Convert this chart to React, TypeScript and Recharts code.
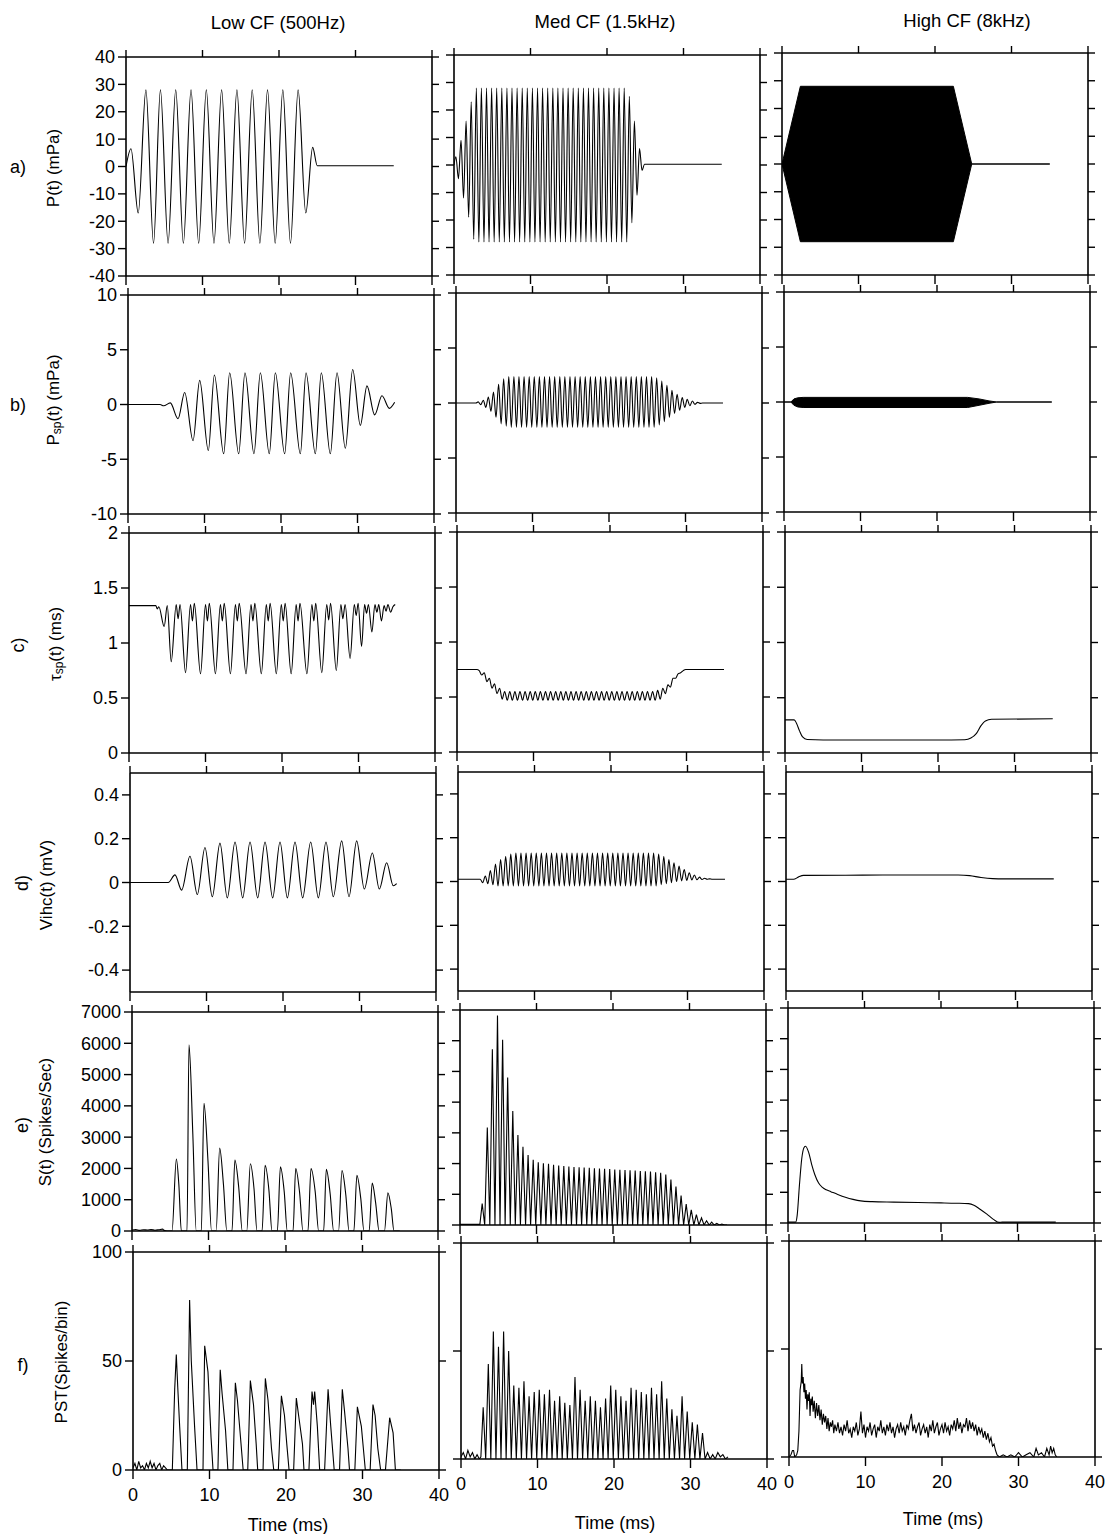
import React from 'react';
import { ComposedChart, Line, Area, XAxis, YAxis } from 'recharts';

// ---------------- data ----------------
type Pair = [number, number];
type RangePair = [number, number, number];

const timeTicks = [0, 10, 20, 30, 40];
const columnTitles = ['Low CF (500Hz)', 'Med CF (1.5kHz)', 'High CF (8kHz)'];

// a) P(t) (mPa)
const lowP: Pair[] = [[0,0],[0.65,6.5],[1.6,-17],[2.6,28],[3.6,-28],[4.5,28],[5.5,-28],[6.5,28],[7.5,-28],[8.5,28],[9.5,-28],[10.5,28],[11.5,-28],[12.5,28],[13.5,-28],[14.5,28],[15.5,-28],[16.5,28],[17.5,-28],[18.5,28],[19.5,-28],[20.5,28],[21.5,-28],[22.5,28],[23.5,-17],[24.4,7],[25.0,0.3],[35,0.3]];
const medPTimes = [
  0.25,0.58,0.92,1.25,1.58,1.92,2.25,2.58,2.92,3.25,
  3.58,3.92,4.25,4.58,4.92,5.25,5.58,5.92,6.25,6.58,
  6.92,7.25,7.58,7.92,8.25,8.58,8.92,9.25,9.58,9.92,
  10.25,10.58,10.92,11.25,11.58,11.92,12.25,12.58,12.92,13.25,
  13.58,13.92,14.25,14.58,14.92,15.25,15.58,15.92,16.25,16.58,
  16.92,17.25,17.58,17.92,18.25,18.58,18.92,19.25,19.58,19.92,
  20.25,20.58,20.92,21.25,21.58,21.92,22.25,22.58,22.92,23.25,
  23.58,23.92,24.25,24.58];
const medPValues = [
  3,-5,9,-12,16,-19,23,-27,28,-28,
  28,-28,28,-28,28,-28,28,-28,28,-28,
  28,-28,28,-28,28,-28,28,-28,28,-28,
  28,-28,28,-28,28,-28,28,-28,28,-28,
  28,-28,28,-28,28,-28,28,-28,28,-28,
  28,-28,28,-28,28,-28,28,-28,28,-28,
  28,-28,28,-28,28,-28,28,-28,25,-21,
  16,-11,6,-2];
const medPLead: Pair[] = [[0,0]];
const medPTail: Pair[] = [[24.9,0.3],[35,0.3]];
const highPEnvelope: RangePair[] = [[0,0,0],[2.4,-28,28],[22.4,-28,28],[24.8,0,0],[35,0,0]];

// shared time grid of the 1.5 kHz column (half-cycle steps)
const medTimes = [
  2.9,3.23,3.57,3.9,4.23,4.57,4.9,5.23,5.57,5.9,
  6.23,6.57,6.9,7.23,7.57,7.9,8.23,8.57,8.9,9.23,
  9.57,9.9,10.23,10.57,10.9,11.23,11.57,11.9,12.23,12.57,
  12.9,13.23,13.57,13.9,14.23,14.57,14.9,15.23,15.57,15.9,
  16.23,16.57,16.9,17.23,17.57,17.9,18.23,18.57,18.9,19.23,
  19.57,19.9,20.23,20.57,20.9,21.23,21.57,21.9,22.23,22.57,
  22.9,23.23,23.57,23.9,24.23,24.57,24.9,25.23,25.57,25.9,
  26.23,26.57,26.9,27.23,27.57,27.9,28.23,28.57,28.9,29.23,
  29.57,29.9,30.23,30.57,30.9,31.23,31.57,31.9,32.23,32.57,
  32.9,33.23,33.57,33.9,34.23,34.57,34.9];

// b) Psp(t) (mPa)
const lowPsp: Pair[] = [[0,0],[4.2,0],[4.66,-0.12],[5.53,0.15],[6.54,-1.3],[7.41,1.1],[8.5,-3.3],[9.37,2.2],[10.5,-4.2],[11.29,2.7],[12.51,-4.5],[13.29,2.9],[14.47,-4.5],[15.29,2.9],[16.47,-4.5],[17.3,2.9],[18.47,-4.5],[19.26,2.9],[20.48,-4.5],[21.26,2.9],[22.53,-4.5],[23.27,2.9],[24.49,-4.5],[25.27,2.9],[26.45,-4.5],[27.32,2.9],[28.41,-4.0],[29.37,3.2],[30.37,-1.9],[31.24,1.7],[32.24,-0.95],[33.2,0.8],[34.16,-0.35],[34.86,0.2]];
const medPspLead: Pair[] = [[0,0],[2.6,0]];
const medPspValues = [
  0.1,-0.15,0.25,-0.4,0.55,-0.75,1.0,-1.3,1.7,-1.9,
  2.2,-2.1,2.4,-2.2,2.4,-2.2,2.4,-2.2,2.4,-2.2,
  2.4,-2.2,2.4,-2.2,2.4,-2.2,2.4,-2.2,2.4,-2.2,
  2.4,-2.2,2.4,-2.2,2.4,-2.2,2.4,-2.2,2.4,-2.2,
  2.4,-2.2,2.4,-2.2,2.4,-2.2,2.4,-2.2,2.4,-2.2,
  2.4,-2.2,2.4,-2.2,2.4,-2.2,2.4,-2.2,2.4,-2.2,
  2.4,-2.2,2.4,-2.2,2.4,-2.2,2.4,-2.2,2.4,-2.2,
  2.3,-2.0,2.0,-1.7,1.6,-1.3,1.15,-0.95,0.8,-0.65,
  0.5,-0.4,0.33,-0.25,0.18,-0.12,0.06,-0.03,0,0,
  0,0,0,0,0,0,0];
const highPspEnvelope: RangePair[] = [[0,0,0],[0.9,0,0],[1.3,-0.3,0.28],[1.8,-0.45,0.38],[2.5,-0.5,0.42],[24,-0.5,0.42],[25.5,-0.3,0.28],[26.8,-0.12,0.1],[27.8,0,0],[35,0,0]];

// c) tau_sp(t) (ms)
const lowTau: Pair[] = [[0,1.34],[3.5,1.34],[3.7,1.31],[3.9,1.33],[4.6,1.15],[5.0,1.34],[5.52,0.83],[6.17,1.35],[6.42,1.22],[6.67,1.35],[7.39,0.73],[8.04,1.35],[8.29,1.2],[8.54,1.36],[9.35,0.72],[10.0,1.35],[10.25,1.2],[10.5,1.36],[11.3,0.72],[11.95,1.35],[12.2,1.2],[12.45,1.36],[13.26,0.72],[13.91,1.35],[14.16,1.2],[14.41,1.36],[15.3,0.72],[15.95,1.35],[16.2,1.2],[16.45,1.36],[17.3,0.72],[17.95,1.35],[18.2,1.2],[18.45,1.36],[19.26,0.72],[19.91,1.35],[20.16,1.2],[20.41,1.36],[21.2,0.72],[21.85,1.35],[22.1,1.2],[22.35,1.36],[23.26,0.72],[23.91,1.35],[24.16,1.2],[24.41,1.36],[25.2,0.73],[25.85,1.35],[26.1,1.21],[26.35,1.36],[27.1,0.75],[27.7,1.35],[27.95,1.22],[28.25,1.35],[28.9,0.86],[29.45,1.35],[29.7,1.25],[29.95,1.36],[30.4,0.97],[30.8,1.35],[31.05,1.27],[31.3,1.35],[31.75,1.1],[32.15,1.35],[32.4,1.28],[32.65,1.35],[33.0,1.2],[33.35,1.34],[33.6,1.29],[33.85,1.35],[34.2,1.28],[34.5,1.33],[34.8,1.35]];
const medTauLead: Pair[] = [[0,0.75],[2.6,0.75]];
const medTauValues = [
  0.74,0.70,0.72,0.64,0.67,0.58,0.62,0.53,0.58,0.48,
  0.55,0.47,0.55,0.47,0.55,0.47,0.55,0.47,0.55,0.47,
  0.55,0.47,0.55,0.47,0.55,0.47,0.55,0.47,0.55,0.47,
  0.55,0.47,0.55,0.47,0.55,0.47,0.55,0.47,0.55,0.47,
  0.55,0.47,0.55,0.47,0.55,0.47,0.55,0.47,0.55,0.47,
  0.55,0.47,0.55,0.47,0.55,0.47,0.55,0.47,0.55,0.47,
  0.55,0.47,0.55,0.47,0.55,0.47,0.55,0.47,0.55,0.47,
  0.56,0.48,0.58,0.53,0.61,0.59,0.67,0.67,0.71,0.72,
  0.74,0.75,0.75,0.75,0.75,0.75,0.75,0.75,0.75,0.75,
  0.75,0.75,0.75,0.75,0.75,0.75,0.75];
const highTau: Pair[] = [[0,0.3],[1.2,0.3],[1.5,0.27],[1.9,0.2],[2.3,0.145],[2.9,0.122],[5,0.118],[20,0.117],[23.5,0.12],[24.3,0.135],[25.0,0.175],[25.6,0.245],[26.2,0.29],[27.0,0.305],[35,0.31]];

// d) Vihc(t) (mV)
const lowV: Pair[] = [[0,0],[5.0,0],[5.88,0.035],[6.75,-0.035],[7.84,0.12],[8.8,-0.055],[9.8,0.16],[10.76,-0.065],[11.76,0.18],[12.72,-0.07],[13.73,0.185],[14.73,-0.07],[15.69,0.185],[16.69,-0.07],[17.65,0.185],[18.65,-0.07],[19.61,0.185],[20.57,-0.07],[21.57,0.185],[22.57,-0.07],[23.62,0.185],[24.62,-0.07],[25.62,0.185],[26.58,-0.065],[27.67,0.19],[28.63,-0.065],[29.63,0.19],[30.63,-0.03],[31.68,0.135],[32.59,-0.03],[33.55,0.09],[34.42,-0.015],[34.86,-0.005]];
const medVLead: Pair[] = [[0,0.01],[2.6,0.01]];
const medVValues = [
  0.01,-0.005,0.025,-0.01,0.05,-0.015,0.08,-0.02,0.1,-0.02,
  0.115,-0.02,0.125,-0.02,0.13,-0.02,0.13,-0.02,0.13,-0.02,
  0.13,-0.02,0.13,-0.02,0.13,-0.02,0.13,-0.02,0.13,-0.02,
  0.13,-0.02,0.13,-0.02,0.13,-0.02,0.13,-0.02,0.13,-0.02,
  0.13,-0.02,0.13,-0.02,0.13,-0.02,0.13,-0.02,0.13,-0.02,
  0.13,-0.02,0.13,-0.02,0.13,-0.02,0.13,-0.02,0.13,-0.02,
  0.13,-0.02,0.13,-0.02,0.13,-0.02,0.13,-0.02,0.13,-0.02,
  0.125,-0.015,0.115,-0.01,0.1,-0.005,0.085,0,0.07,0.003,
  0.055,0.005,0.04,0.007,0.03,0.008,0.02,0.009,0.015,0.01,
  0.012,0.01,0.01,0.01,0.01,0.01,0.01];
const highV: Pair[] = [[0,0.01],[1.0,0.01],[1.6,0.02],[2.3,0.028],[10,0.029],[20,0.03],[22.5,0.03],[24,0.027],[25.5,0.018],[27,0.013],[28.5,0.012],[35,0.012]];

// e) S(t) (Spikes/Sec)
const lowS: Pair[] = [[0,30],[0.5,50],[1,20],[1.5,40],[2,30],[2.5,45],[3,25],[3.5,40],[4.0,60],[4.2,20],[4.6,0],[5.23,0],[5.8,2300],[6.12,1500],[6.45,0],[7.19,0],[7.45,5950],[7.95,3100],[8.4,0],[9.06,0],[9.41,4080],[9.93,2250],[10.4,0],[11.0,0],[11.46,2650],[11.95,1500],[12.4,0],[13.07,0],[13.45,2270],[13.95,1400],[14.42,0],[15.0,0],[15.47,2150],[15.95,1350],[16.34,0],[17.0,0],[17.4,2100],[17.9,1300],[18.3,0],[19.0,0],[19.4,2050],[19.9,1250],[20.3,0],[21.05,0],[21.4,2000],[21.9,1250],[22.35,0],[23.0,0],[23.4,2000],[23.95,1250],[24.4,0],[25.05,0],[25.4,1970],[25.9,1200],[26.36,0],[27.0,0],[27.45,1930],[27.95,1150],[28.37,0],[29.0,0],[29.4,1780],[29.9,1050],[30.33,0],[31.0,0],[31.4,1530],[31.85,900],[32.3,0],[33.0,0],[33.45,1220],[33.9,700],[34.25,0],[35,0]];
const medSLead: Pair[] = [[0,20],[2.6,20]];
const medSValues = [
  700,0,3170,0,5720,0,6820,0,6030,0,
  4800,0,3710,0,2930,0,2550,0,2280,0,
  2120,0,2040,0,2010,0,1990,0,1960,0,
  1940,0,1920,0,1900,0,1890,0,1880,0,
  1870,0,1860,0,1850,0,1840,0,1830,0,
  1820,0,1810,0,1800,0,1790,0,1780,0,
  1770,0,1760,0,1750,0,1740,0,1720,0,
  1700,0,1640,0,1480,0,1250,0,960,0,
  680,0,490,0,340,0,230,0,140,0,
  95,0,55,0,30,0,0];
const highS: Pair[] = [[0,30],[1.0,30],[1.2,250],[1.5,1250],[1.8,2100],[2.1,2460],[2.3,2500],[2.7,2300],[3.1,1900],[3.5,1580],[4.0,1300],[4.5,1160],[5.0,1080],[5.6,1020],[6.5,930],[7.5,840],[8.5,770],[9.5,720],[11,695],[13.8,680],[17,665],[20,655],[22,645],[23.6,630],[24.3,580],[25.1,450],[26,290],[26.9,110],[27.6,20],[28,30],[35,30]];

// f) PST (Spikes/bin)
const lowPST: Pair[] = [[0,1],[0.25,3],[0.5,0],[0.75,4],[1.0,1],[1.25,2],[1.5,0],[1.75,3],[2.0,1],[2.25,4],[2.5,1],[2.75,3],[3.0,0],[3.25,2],[3.5,3],[3.75,0],[4.0,2],[4.25,1],[4.5,0],[5.14,0],[5.45,37],[5.66,53],[5.85,38],[6.1,20],[6.4,0],[7.1,0],[7.4,78],[7.62,50],[8.05,20],[8.37,0],[9.15,0],[9.37,57],[9.8,45],[10.2,15],[10.46,0],[11.1,0],[11.4,46],[11.65,35],[12.1,18],[12.4,0],[13.07,0],[13.38,40],[13.65,32],[14.05,15],[14.4,0],[15.0,0],[15.34,41],[15.75,30],[16.1,12],[16.3,0],[17.0,0],[17.3,42],[17.65,32],[18.1,10],[18.4,0],[19.0,0],[19.4,34],[19.8,25],[20.1,12],[20.4,0],[21.0,0],[21.35,33],[21.65,25],[22.15,12],[22.35,0],[23.0,0],[23.4,36],[23.6,30],[23.75,36],[24.1,20],[24.4,0],[25.05,0],[25.5,37],[25.85,20],[26.3,0],[27.0,0],[27.36,37],[27.65,27],[28.1,10],[28.3,0],[29.0,0],[29.33,29],[29.85,20],[30.37,0],[31.0,0],[31.37,30],[31.65,25],[32.0,10],[32.37,0],[33.0,0],[33.55,24],[34.0,17],[34.3,0],[35,0]];
const medPSTLead: Pair[] = [[0,1],[0.3,3],[0.6,0],[0.9,4],[1.2,1],[1.5,3],[1.8,0],[2.1,2],[2.4,0],[2.6,1]];
const medPSTValues = [
  24,0,44,0,59,0,52,0,59,0,
  50,0,34,0,33,0,36,0,29,0,
  31,0,32,0,30,0,32,0,27,0,
  29,0,26,0,25,0,38,0,32,0,
  27,0,29,0,27,0,24,0,28,0,
  34,0,32,0,29,0,27,0,33,0,
  32,0,31,0,30,0,33,0,30,0,
  36,0,28,0,23,0,20,0,29,0,
  22,0,17,0,16,0,12,0,3,0,
  2,0,3,1,2,0,1];
const highPST: Pair[] = [[0,0],[0.25,1],[0.45,3],[0.6,3],[0.75,0],[1.0,1],[1.15,3],[1.3,12],[1.45,31],[1.6,35],[1.67,43],[1.75,34],[1.85,37],[1.95,30],[2.05,34],[2.15,27],[2.25,31],[2.35,22],[2.45,29],[2.55,26],[2.65,30],[2.75,19],[2.85,27],[2.95,24],[3.05,28],[3.15,21],[3.3,26],[3.45,18],[3.6,25],[3.75,19],[3.9,24],[4.05,17],[4.2,22],[4.35,15],[4.5,20],[4.65,16],[4.8,19],[4.95,13],[5.1,18],[5.25,12],[5.4,16],[5.55,14],[5.7,17],[5.85,11],[6.0,15],[6.2,12],[6.4,16],[6.6,11],[6.8,14],[7.0,10],[7.2,15],[7.4,12],[7.6,17],[7.8,11],[8.0,13],[8.2,9],[8.4,14],[8.6,12],[8.8,16],[9.0,10],[9.2,13],[9.4,21],[9.6,11],[9.8,15],[10.0,9],[10.2,14],[10.4,12],[10.6,16],[10.8,10],[11.0,13],[11.2,15],[11.4,9],[11.6,14],[11.8,12],[12.0,17],[12.2,11],[12.4,14],[12.6,10],[12.8,15],[13.0,12],[13.2,16],[13.4,11],[13.6,14],[13.8,9],[14.0,13],[14.2,15],[14.4,11],[14.6,16],[14.8,12],[15.0,14],[15.2,10],[15.4,15],[15.6,13],[15.8,17],[16.0,20],[16.2,12],[16.4,15],[16.6,11],[16.8,14],[17.0,16],[17.2,10],[17.4,13],[17.6,15],[17.8,11],[18.0,14],[18.2,9],[18.4,15],[18.6,12],[18.8,17],[19.0,11],[19.2,14],[19.4,16],[19.6,10],[19.8,13],[20.0,15],[20.2,11],[20.4,16],[20.6,12],[20.8,14],[21.0,10],[21.2,15],[21.4,13],[21.6,17],[21.8,12],[22.0,18],[22.2,13],[22.4,16],[22.6,11],[22.8,15],[23.0,14],[23.2,18],[23.4,12],[23.6,17],[23.8,13],[24.0,16],[24.2,12],[24.4,15],[24.6,10],[24.8,14],[25.0,11],[25.2,13],[25.4,9],[25.6,12],[25.8,8],[26.0,11],[26.2,7],[26.4,9],[26.6,5],[26.8,6],[27.0,3],[27.2,1],[27.5,0],[28,1],[28.5,0],[29,1],[29.5,0],[30,2],[30.5,0],[31,1],[31.5,2],[32,0],[32.3,4],[32.6,1],[33,2],[33.4,0],[33.7,4],[34,1],[34.2,5],[34.4,2],[34.6,4],[34.8,1],[35,0]];

// row axes
const rowDomains: [number, number][] = [[-40,40],[-10,10],[0,2],[-0.5,0.5],[0,7000],[0,100]];
const rowTicks: number[][] = [
  [-40,-30,-20,-10,0,10,20,30,40],
  [-10,-5,0,5,10],
  [0,0.5,1,1.5,2],
  [-0.4,-0.2,0,0.2,0.4],
  [0,1000,2000,3000,4000,5000,6000,7000],
  [0,50,100],
];

// ---------------- table building ----------------
type Row = { t: number; v?: number; r?: [number, number] };
const fromPairs = (p: Pair[]): Row[] => p.map(([t, v]) => ({ t, v }));
const fromGrid = (lead: Pair[], times: number[], vals: number[], tail: Pair[] = []): Row[] => [
  ...fromPairs(lead),
  ...times.map((t, i) => ({ t, v: vals[i] })),
  ...fromPairs(tail),
];
const fromRange = (p: RangePair[]): Row[] => p.map(([t, lo, hi]) => ({ t, r: [lo, hi] as [number, number] }));

type PanelDef = { row: number; col: number; data: Row[]; kind: 'line' | 'area'; curve: 'monotone' | 'linear' };
const panels: PanelDef[] = [
  { row: 0, col: 0, data: fromPairs(lowP), kind: 'line', curve: 'monotone' },
  { row: 0, col: 1, data: fromGrid(medPLead, medPTimes, medPValues, medPTail), kind: 'line', curve: 'monotone' },
  { row: 0, col: 2, data: fromRange(highPEnvelope), kind: 'area', curve: 'linear' },
  { row: 1, col: 0, data: fromPairs(lowPsp), kind: 'line', curve: 'monotone' },
  { row: 1, col: 1, data: fromGrid(medPspLead, medTimes, medPspValues), kind: 'line', curve: 'monotone' },
  { row: 1, col: 2, data: fromRange(highPspEnvelope), kind: 'area', curve: 'linear' },
  { row: 2, col: 0, data: fromPairs(lowTau), kind: 'line', curve: 'monotone' },
  { row: 2, col: 1, data: fromGrid(medTauLead, medTimes, medTauValues), kind: 'line', curve: 'monotone' },
  { row: 2, col: 2, data: fromPairs(highTau), kind: 'line', curve: 'monotone' },
  { row: 3, col: 0, data: fromPairs(lowV), kind: 'line', curve: 'monotone' },
  { row: 3, col: 1, data: fromGrid(medVLead, medTimes, medVValues), kind: 'line', curve: 'monotone' },
  { row: 3, col: 2, data: fromPairs(highV), kind: 'line', curve: 'monotone' },
  { row: 4, col: 0, data: fromPairs(lowS), kind: 'line', curve: 'monotone' },
  { row: 4, col: 1, data: fromGrid(medSLead, medTimes, medSValues), kind: 'line', curve: 'linear' },
  { row: 4, col: 2, data: fromPairs(highS), kind: 'line', curve: 'monotone' },
  { row: 5, col: 0, data: fromPairs(lowPST), kind: 'line', curve: 'linear' },
  { row: 5, col: 1, data: fromGrid(medPSTLead, medTimes, medPSTValues), kind: 'line', curve: 'linear' },
  { row: 5, col: 2, data: fromPairs(highPST), kind: 'line', curve: 'linear' },
];

// ---------------- layout (plot frames as scanned) ----------------
const PW = 306;
const LW = 80, RW = 16, TH = 16, BH = 44;
const COL_LEFT = [126, 454, 782];
const ROW_DX = [0, 1.6, 2.6, 4.2, 5.8, 7];
// [top, bottom] of each plot frame, per row and column
const FRAME_Y: [number, number][][] = [
  [[57, 276], [55, 275], [53, 275]],
  [[295, 514], [293, 513], [292, 512]],
  [[533, 753], [532, 752], [532, 753]],
  [[773, 992], [772, 991], [772, 991]],
  [[1012, 1231], [1010, 1225], [1008, 1223]],
  [[1252, 1470], [1243, 1459], [1241, 1457]],
];
const FONT = 'Liberation Sans, Arial, Helvetica, sans-serif';
const TICK_TEXT = { fill: '#000', fontSize: 18, fontFamily: FONT };
const AXIS_LINE = { stroke: '#000', strokeWidth: 1.6 };
const TICK_LINE = { stroke: '#000', strokeWidth: 1.4 };
const NoTick = () => <g />;

function Panel({ p }: { p: PanelDef }) {
  const left = COL_LEFT[p.col] + ROW_DX[p.row];
  const [top, bottom] = FRAME_Y[p.row][p.col];
  const ph = bottom - top;
  const showY = p.col === 0;
  const showX = p.row === 5;
  const dom = rowDomains[p.row];
  const ticks = rowTicks[p.row];
  return (
    <div style={{ position: 'absolute', left: left - LW, top: top - TH }}>
      <ComposedChart width={LW + PW + RW} height={TH + ph + BH} data={p.data} margin={{ top: 0, right: 0, bottom: 0, left: 0 }}>
        <XAxis xAxisId="b" type="number" dataKey="t" domain={[0, 40]} ticks={timeTicks} allowDataOverflow orientation="bottom"
          height={BH} interval={0} tickSize={9} tickMargin={9} stroke="#000" axisLine={AXIS_LINE} tickLine={TICK_LINE}
          tick={showX ? TICK_TEXT : NoTick} />
        <XAxis xAxisId="t" type="number" dataKey="t" domain={[0, 40]} ticks={timeTicks} allowDataOverflow orientation="top"
          height={TH} interval={0} tickSize={7} stroke="#000" axisLine={AXIS_LINE} tickLine={TICK_LINE} tick={NoTick} />
        <YAxis yAxisId="l" type="number" domain={dom} ticks={ticks} allowDataOverflow orientation="left" width={LW}
          interval={0} tickSize={8} tickMargin={3} stroke="#000" axisLine={AXIS_LINE} tickLine={TICK_LINE}
          tick={showY ? TICK_TEXT : NoTick} />
        <YAxis yAxisId="r" type="number" domain={dom} ticks={ticks} allowDataOverflow orientation="right" width={RW}
          interval={0} tickSize={7} stroke="#000" axisLine={AXIS_LINE} tickLine={TICK_LINE} tick={NoTick} />
        {p.kind === 'area' ? (
          <Area xAxisId="b" yAxisId="l" dataKey="r" type="linear" stroke="#000" strokeWidth={1} fill="#000" fillOpacity={1}
            dot={false} activeDot={false} isAnimationActive={false} />
        ) : (
          <Line xAxisId="b" yAxisId="l" dataKey="v" type={p.curve} stroke="#000" strokeWidth={1.1}
            dot={false} activeDot={false} isAnimationActive={false} />
        )}
      </ComposedChart>
    </div>
  );
}

function Rotated({ x, y, children, size = 17 }: { x: number; y: number; children: React.ReactNode; size?: number }) {
  return (
    <text transform={`translate(${x},${y}) rotate(-90)`} textAnchor="middle" dominantBaseline="central" fontSize={size}>
      {children}
    </text>
  );
}

export default function App() {
  const titleX = [278, 605, 967];
  const titleY = [22, 21, 20];
  const timeX = [288, 615, 943];
  const timeY = [1525, 1523, 1519];
  return (
    <div style={{ position: 'absolute', left: 0, top: 0, width: 1109, height: 1534, background: '#fff', fontFamily: FONT }}>
      {panels.map((p, i) => <Panel key={i} p={p} />)}
      <svg width={1109} height={1534} style={{ position: 'absolute', left: 0, top: 0, pointerEvents: 'none' }} fontFamily={FONT} fill="#000">
        {columnTitles.map((t, i) => (
          <text key={t} x={titleX[i]} y={titleY[i]} textAnchor="middle" dominantBaseline="central" fontSize={18.5}>{t}</text>
        ))}
        {timeX.map((x, i) => (
          <text key={i} x={x} y={timeY[i]} textAnchor="middle" dominantBaseline="central" fontSize={18}>Time (ms)</text>
        ))}
        <text x={18} y={167} textAnchor="middle" dominantBaseline="central" fontSize={18}>a)</text>
        <Rotated x={53} y={168}>P(t) (mPa)</Rotated>
        <text x={18} y={405} textAnchor="middle" dominantBaseline="central" fontSize={18}>b)</text>
        <Rotated x={53} y={400}>P<tspan dy={4} fontSize={12}>sp</tspan><tspan dy={-4}>(t) (mPa)</tspan></Rotated>
        <Rotated x={18} y={645} size={18}>c)</Rotated>
        <Rotated x={55} y={644}>τ<tspan dy={4} fontSize={12}>sp</tspan><tspan dy={-4}>(t) (ms)</tspan></Rotated>
        <Rotated x={22} y={883} size={18}>d)</Rotated>
        <Rotated x={46} y={885}>Vihc(t) (mV)</Rotated>
        <Rotated x={22} y={1125} size={18}>e)</Rotated>
        <Rotated x={45} y={1122}>S(t) (Spikes/Sec)</Rotated>
        <text x={23} y={1365} textAnchor="middle" dominantBaseline="central" fontSize={18}>f)</text>
        <Rotated x={61} y={1362}>PST(Spikes/bin)</Rotated>
      </svg>
    </div>
  );
}
